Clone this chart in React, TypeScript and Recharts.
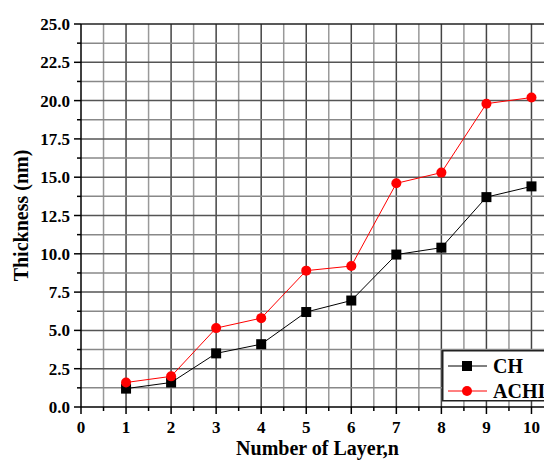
import React from 'react';
import { LineChart, Line, XAxis, YAxis, ReferenceLine } from 'recharts';

const layers = [1, 2, 3, 4, 5, 6, 7, 8, 9, 10];
const chValues = [1.2, 1.6, 3.5, 4.1, 6.2, 6.95, 9.95, 10.4, 13.7, 14.4];
const achiValues = [1.6, 2.0, 5.15, 5.8, 8.9, 9.2, 14.6, 15.3, 19.8, 20.2];
const xTicks = [0, 0.5, 1, 1.5, 2, 2.5, 3, 3.5, 4, 4.5, 5, 5.5, 6, 6.5, 7, 7.5, 8, 8.5, 9, 9.5, 10];
const yTicks = [0, 1.25, 2.5, 3.75, 5, 6.25, 7.5, 8.75, 10, 11.25, 12.5, 13.75, 15, 16.25, 17.5, 18.75, 20, 21.25, 22.5, 23.75, 25];
const xGrid = [0.5, 1, 1.5, 2, 2.5, 3, 3.5, 4, 4.5, 5, 5.5, 6, 6.5, 7, 7.5, 8, 8.5, 9, 9.5, 10, 10.5];
const yGrid = [1.25, 2.5, 3.75, 5, 6.25, 7.5, 8.75, 10, 11.25, 12.5, 13.75, 15, 16.25, 17.5, 18.75, 20, 21.25, 22.5, 23.75, 25];
const seriesNames = ['CH', 'ACHI'];

const data = layers.map((n, i) => ({ n, CH: chValues[i], ACHI: achiValues[i] }));

const FONT = '"Liberation Serif", "Times New Roman", serif';

const isMajorY = (v: number) => Math.abs(v / 2.5 - Math.round(v / 2.5)) < 1e-6;

const XTick = (props: any) => {
  const { x, y, payload } = props;
  const v = payload.value;
  const major = Number.isInteger(v);
  return (
    <g>
      <line x1={x} x2={x} y1={y} y2={y + (major ? 7 : 4)} stroke="#000" strokeWidth={1.5} />
      {major && (
        <text x={x} y={y + 26} textAnchor="middle" fontFamily={FONT} fontWeight="bold" fontSize={17} fill="#000">
          {v}
        </text>
      )}
    </g>
  );
};

const YTick = (props: any) => {
  const { x, y, payload } = props;
  const v = payload.value;
  const major = isMajorY(v);
  return (
    <g>
      <line x1={x} x2={x - (major ? 7 : 4)} y1={y} y2={y} stroke="#000" strokeWidth={1.5} />
      {major && (
        <text x={x - 11} y={y + 6} textAnchor="end" fontFamily={FONT} fontWeight="bold" fontSize={17} fill="#000">
          {v.toFixed(1)}
        </text>
      )}
    </g>
  );
};

const Square = (props: any) => {
  const { cx, cy } = props;
  if (cx == null || cy == null) return null;
  return <rect x={cx - 5} y={cy - 5} width={10} height={10} fill="#000" />;
};

const Dot = (props: any) => {
  const { cx, cy } = props;
  if (cx == null || cy == null) return null;
  return <circle cx={cx} cy={cy} r={5} fill="#ff0000" />;
};

const LegendBox = () => (
  <svg
    width={130}
    height={52}
    style={{ position: 'absolute', left: 434, top: 342, display: 'block' }}
  >
    <rect x={0.75} y={0.75} width={128} height={50} fill="#fff" stroke="#222" strokeWidth={1.5} />
    <line x1={6} x2={45} y1={16} y2={16} stroke="#000" strokeWidth={1} />
    <rect x={20} y={11} width={10} height={10} fill="#000" />
    <line x1={6} x2={45} y1={41} y2={41} stroke="#ff0000" strokeWidth={1} />
    <circle cx={25} cy={41} r={5} fill="#ff0000" />
    <text x={51} y={23} fontFamily={FONT} fontWeight="bold" fontSize={20} fill="#000">
      {seriesNames[0]}
    </text>
    <text x={51} y={48} fontFamily={FONT} fontWeight="bold" fontSize={20} fill="#000">
      {seriesNames[1]}
    </text>
  </svg>
);

export default function App() {
  return (
    <div style={{ width: 544, height: 456, overflow: 'hidden', position: 'relative' }}>
      <LineChart
        width={560}
        height={456}
        data={data}
        margin={{ top: 16, right: 14, left: 0, bottom: 0 }}
      >
        {xGrid.map((v) => (
          <ReferenceLine
            key={'x' + v}
            x={v}
            stroke={Number.isInteger(v) ? '#444' : '#999'}
            strokeWidth={1.5}
            ifOverflow="extendDomain"
          />
        ))}
        {yGrid.map((v) => (
          <ReferenceLine
            key={'y' + v}
            y={v}
            stroke={v === 25 ? '#222' : isMajorY(v) ? '#555' : '#888'}
            strokeWidth={1.5}
          />
        ))}
        <XAxis
          dataKey="n"
          type="number"
          domain={[0, 10.5]}
          ticks={xTicks}
          interval={0}
          height={57}
          tickSize={0}
          tickMargin={0}
          tickLine={false}
          axisLine={{ stroke: '#000', strokeWidth: 1.5 }}
          tick={<XTick />}
          label={{
            value: 'Number of Layer,n',
            position: 'insideBottom',
            offset: 9,
            style: { fontFamily: FONT, fontWeight: 'bold', fontSize: 20, fill: '#000' },
          }}
        />
        <YAxis
          type="number"
          domain={[0, 25]}
          ticks={yTicks}
          interval={0}
          width={73}
          tickSize={0}
          tickMargin={0}
          tickLine={false}
          axisLine={{ stroke: '#000', strokeWidth: 1.5 }}
          tick={<YTick />}
          label={{
            value: 'Thickness (nm)',
            angle: -90,
            position: 'insideLeft',
            offset: 13,
            style: { fontFamily: FONT, fontWeight: 'bold', fontSize: 20, fill: '#000', textAnchor: 'middle' },
          }}
        />
        <Line
          dataKey="CH"
          stroke="#000"
          strokeWidth={1}
          dot={<Square />}
          activeDot={false}
          isAnimationActive={false}
        />
        <Line
          dataKey="ACHI"
          stroke="#ff0000"
          strokeWidth={1}
          dot={<Dot />}
          activeDot={false}
          isAnimationActive={false}
        />
      </LineChart>
      <LegendBox />
    </div>
  );
}
